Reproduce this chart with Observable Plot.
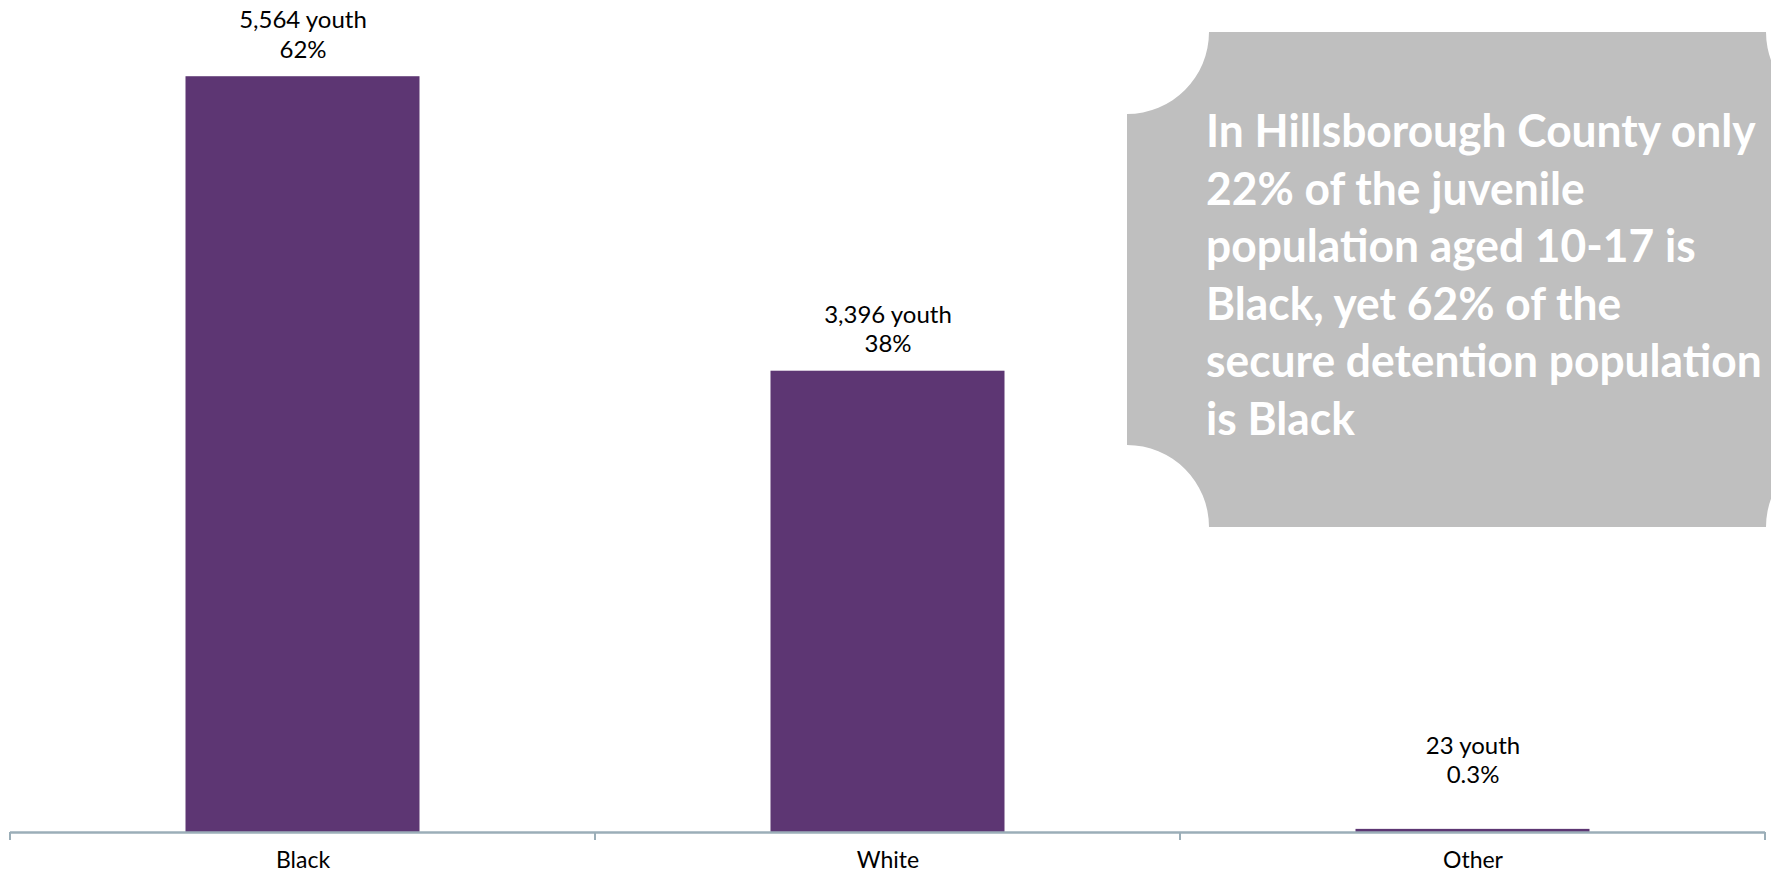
<!DOCTYPE html>
<html>
<head>
<meta charset="utf-8">
<script src="https://cdn.jsdelivr.net/npm/d3@7"></script>
<script src="https://cdn.jsdelivr.net/npm/@observablehq/plot@0.6"></script>
<style>
  html, body { margin: 0; padding: 0; background: #ffffff; }
  #chart { width: 1771px; height: 872px; overflow: hidden; }
</style>
</head>
<body>
<div id="chart"></div>
<script>
// ---- data ----
const categories = ["Black", "White", "Other"];
const youthCounts = [5564, 3396, 23];
const percentLabels = ["62%", "38%", "0.3%"];
const calloutLines = [
  "In Hillsborough County only",
  "22% of the juvenile",
  "population aged 10-17 is",
  "Black, yet 62% of the",
  "secure detention population",
  "is Black"
];

const rows = categories.map((c, i) => ({
  category: c,
  count: youthCounts[i],
  label: `${d3.format(",")(youthCounts[i])} youth\n${percentLabels[i]}`
}));

const W = 1771, H = 872;
const mL = 10, mR = 6;
const bandW = (W - mL - mR) / categories.length;
const inset = bandW * 0.3;
const purple = "#5D3673";
const axisColor = "#9BAEB8";
const labelFont = "Lato, 'Noto Sans', sans-serif";

// band-boundary tick marks under the axis
const bandTicks = (index, scales) => {
  const g = d3.create("svg:g");
  const x = scales.x, y = scales.y;
  const bw = x.bandwidth();
  const edges = categories.map(c => x(c)).concat([x(categories[categories.length - 1]) + bw]);
  edges.forEach(e => {
    g.append("line")
      .attr("x1", e).attr("x2", e)
      .attr("y1", y(0)).attr("y2", y(0) + 8)
      .attr("stroke", axisColor).attr("stroke-width", 2);
  });
  return g.node();
};

// callout box with scooped corners
const calloutX = 1206, calloutTextWidth = 556;
const callout = () => {
  const g = d3.create("svg:g").attr("class", "callout");
  const x0 = 1127, y0 = 32, x1 = 1848, y1 = 527, r = 82;
  const p = `M${x0},${y0 + r} A${r},${r} 0 0 0 ${x0 + r},${y0} L${x1 - r},${y0} A${r},${r} 0 0 0 ${x1},${y0 + r} L${x1},${y1 - r} A${r},${r} 0 0 0 ${x1 - r},${y1} L${x0 + r},${y1} A${r},${r} 0 0 0 ${x0},${y1 - r} Z`;
  g.append("path").attr("d", p).attr("fill", "#BFBFBF");
  const t = g.append("text")
    .attr("class", "callout-text")
    .attr("fill", "#ffffff")
    .attr("text-anchor", "start")
    .attr("font-family", "Lato, 'Noto Sans', sans-serif")
    .attr("font-weight", "bold")
    .attr("font-size", 46)
    .attr("transform", `translate(${calloutX},0)`);
  calloutLines.forEach((line, i) => {
    t.append("tspan").attr("x", 0).attr("y", 147 + i * 57.6).text(line);
  });
  return g.node();
};

const chart = Plot.plot({
  width: W,
  height: H,
  marginLeft: mL,
  marginRight: mR,
  marginTop: 17,
  marginBottom: 40,
  style: { fontFamily: labelFont, background: "#ffffff" },
  x: { domain: categories, padding: 0, axis: null, label: null },
  y: { domain: [0, 6000], axis: null },
  marks: [
    Plot.barY(rows, { x: "category", y: "count", fill: purple, insetLeft: inset, insetRight: inset }),
    Plot.ruleY([0], { stroke: axisColor, strokeWidth: 2.5 }),
    bandTicks,
    Plot.axisX({ tickSize: 0, tickPadding: 19, fontSize: 23, fill: "#000000", label: null }),
    Plot.text(rows.filter(d => d.count > 100), {
      x: "category", y: "count", text: "label",
      lineAnchor: "bottom", dy: -19, fontSize: 24, fill: "#000000", lineHeight: 1.22
    }),
    Plot.text(rows.filter(d => d.count <= 100), {
      x: "category", y: "count", text: "label",
      lineAnchor: "bottom", dy: -46, fontSize: 24, fill: "#000000", lineHeight: 1.22
    }),
    callout
  ]
});

document.getElementById("chart").appendChild(chart);

// condense the callout text horizontally so its widest line fits the box
const ct = chart.querySelector(".callout-text");
if (ct) {
  const lens = Array.from(ct.querySelectorAll("tspan")).map(s => s.getComputedTextLength());
  const len = Math.max(...lens);
  if (len > 0) {
    const k = calloutTextWidth / len;
    ct.setAttribute("transform", `translate(${calloutX},0) scale(${k},1)`);
  }
}
</script>
</body>
</html>
